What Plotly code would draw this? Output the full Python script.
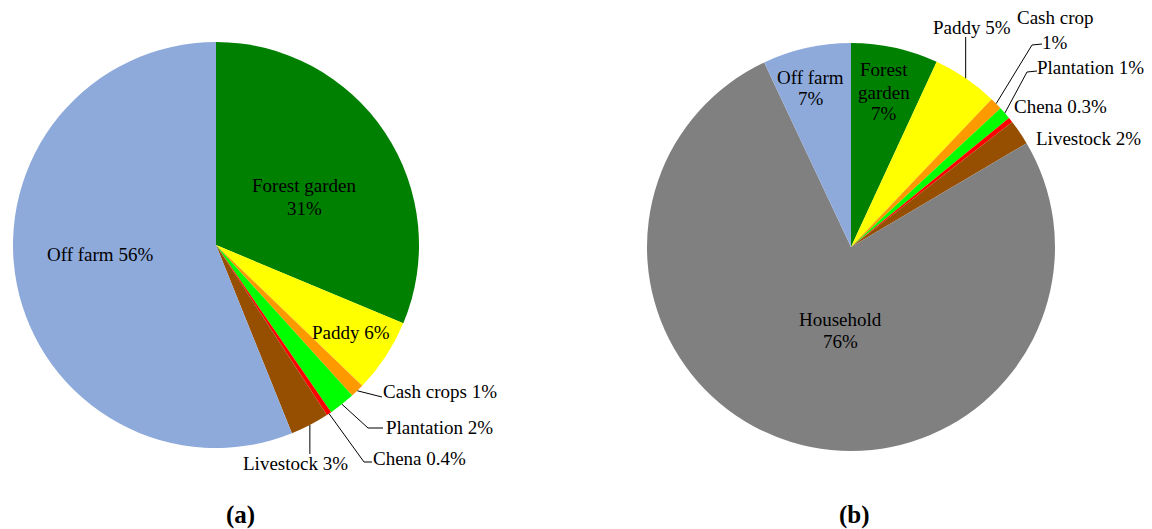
import math
import plotly.graph_objects as go

W, H = 1152, 529
OFF = 8  # the page body adds an 8px margin; compensate so pixels line up

# ── Data ─────────────────────────────────────────────────────────────────────
labels_a = ["Forest garden", "Paddy", "Cash crops", "Plantation", "Chena",
            "Livestock", "Off farm"]
values_a = [31.3, 5.9, 1.1, 2.1, 0.4, 3.1, 56.1]
text_a = ["31%", "6%", "1%", "2%", "0.4%", "3%", "56%"]

labels_b = ["Forest garden", "Paddy", "Cash crop", "Plantation", "Chena",
            "Livestock", "Household", "Off farm"]
values_b = [6.9, 5.2, 1.0, 1.0, 0.4, 2.0, 76.5, 7.0]
text_b = ["7%", "5%", "1%", "1%", "0.3%", "2%", "76%", "7%"]

COLORS = {
    "Forest garden": "#008000",
    "Paddy": "#FFFF00",
    "Cash crops": "#FF9900",
    "Cash crop": "#FF9900",
    "Plantation": "#00FF00",
    "Chena": "#FF0000",
    "Livestock": "#964F00",
    "Off farm": "#8EAADB",
    "Household": "#808080",
}

FONT = "Liberation Serif"
FS = 19

# pie geometry in page pixels (centre x, centre y from top, radius)
PIE_A = (216, 245, 203)
PIE_B = (851, 247, 204)

FW, FH = W - OFF, H - OFF


def px(x):
    return (x - OFF) / FW


def py(y):
    return 1 - (y - OFF) / FH


def domain(cx, cy, r):
    return dict(x=[px(cx - r), px(cx + r)], y=[py(cy + r), py(cy - r)])


def edge_point(values, idx, pie):
    """Point on the rim at the middle of slice idx (clockwise from 12 o'clock)."""
    cx, cy, r = pie
    total = sum(values)
    start = sum(values[:idx])
    mid = (start + values[idx] / 2) / total * 2 * math.pi
    return cx + r * math.sin(mid), cy - r * math.cos(mid)


fig = go.Figure()
for labels, values, pie in [(labels_a, values_a, PIE_A), (labels_b, values_b, PIE_B)]:
    fig.add_trace(go.Pie(
        labels=labels,
        values=values,
        sort=False,
        direction="clockwise",
        rotation=0,
        textinfo="none",
        hoverinfo="label+percent",
        marker=dict(colors=[COLORS[l] for l in labels], line=dict(width=0)),
        domain=domain(*pie),
        showlegend=False,
    ))

annotations = []
shapes = []


def label(lines, x, y, gap=22, size=FS, bold=False):
    """One annotation per text line so line spacing matches the original."""
    if isinstance(lines, str):
        lines = [lines]
    for i, line in enumerate(lines):
        annotations.append(dict(
            text=f"<b>{line}</b>" if bold else line,
            x=px(x), y=py(y + i * gap), xref="paper", yref="paper",
            xanchor="center", yanchor="middle", showarrow=False,
            font=dict(family=FONT, size=size, color="black"),
        ))


def leader(values, idx, pie, pts):
    x0, y0 = edge_point(values, idx, pie)
    path = f"M {px(x0)},{py(y0)}"
    for x, y in pts:
        path += f" L {px(x)},{py(y)}"
    shapes.append(dict(type="path", path=path, xref="paper", yref="paper",
                       line=dict(color="black", width=1)))


# ── (a) labels ───────────────────────────────────────────────────────────────
label([labels_a[0], text_a[0]], 304, 186)
label(f"{labels_a[1]} {text_a[1]}", 351, 332)
label(f"{labels_a[2]} {text_a[2]}", 440, 391)
leader(values_a, 2, PIE_A, [(382, 397)])
label(f"{labels_a[3]} {text_a[3]}", 439, 427)
leader(values_a, 3, PIE_A, [(368, 428), (383, 428)])
label(f"{labels_a[4]} {text_a[4]}", 419, 458)
leader(values_a, 4, PIE_A, [(364, 462), (372, 462)])
label(f"{labels_a[5]} {text_a[5]}", 295, 463)
x0, _ = edge_point(values_a, 5, PIE_A)
leader(values_a, 5, PIE_A, [(x0, 454)])
label(f"{labels_a[6]} {text_a[6]}", 100, 254)

# ── (b) labels ───────────────────────────────────────────────────────────────
label(["Forest", "garden", text_b[0]], 884, 70)
label(f"{labels_b[1]} {text_b[1]}", 972, 28)
x0, _ = edge_point(values_b, 1, PIE_B)
leader(values_b, 1, PIE_B, [(x0, 37)])
label([labels_b[2], text_b[2]], 1055, 18, gap=24)
leader(values_b, 2, PIE_B, [(1032, 45), (1042, 44)])
label(f"{labels_b[3]} {text_b[3]}", 1090, 68)
leader(values_b, 3, PIE_B, [(1027, 72), (1037, 71)])
label(f"{labels_b[4]} {text_b[4]}", 1060, 107)
label(f"{labels_b[5]} {text_b[5]}", 1088, 138)
label([labels_b[6], text_b[6]], 840, 319)
label([labels_b[7], text_b[7]], 811, 77)

# panel tags
label("(a)", 240, 515, size=25, bold=True)
label("(b)", 854, 515, size=25, bold=True)

fig.update_layout(
    width=FW, height=FH,
    margin=dict(l=0, r=0, t=0, b=0),
    paper_bgcolor="white",
    plot_bgcolor="white",
    font=dict(family=FONT, color="black"),
    annotations=annotations,
    shapes=shapes,
)

fig.write_html("out.html")
